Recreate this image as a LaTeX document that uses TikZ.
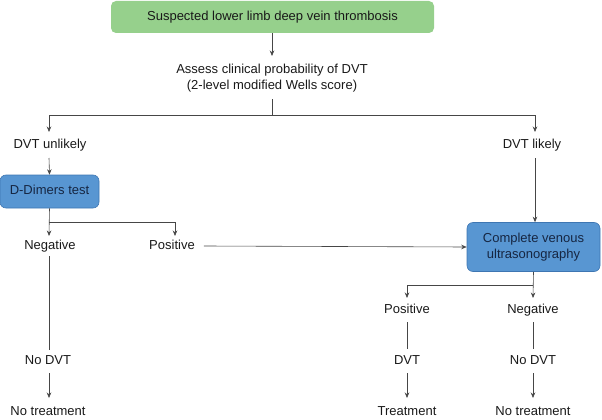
\documentclass[tikz,border=0pt]{standalone}
\usepackage{fontspec}
\setmainfont{Liberation Sans}
\usetikzlibrary{arrows.meta}
\definecolor{boxgreen}{RGB}{150,208,140}
\definecolor{boxblue}{RGB}{88,150,210}
\definecolor{blueedge}{RGB}{62,118,178}
\definecolor{bluetext}{RGB}{22,38,66}
\definecolor{linegray}{RGB}{70,70,70}
\definecolor{txt}{RGB}{25,25,25}
\begin{document}
\begin{tikzpicture}[x=1pt,y=-1pt,
  every node/.style={font=\fontsize{13}{16.5}\selectfont, text=txt},
  lbl/.style={inner sep=1pt, align=center},
  one/.style={lbl, text height=9.5pt, text depth=2.8pt},
  greenbox/.style={fill=boxgreen, rounded corners=5pt, minimum width=323pt, minimum height=32pt, inner sep=0pt},
  bluebox/.style={fill=boxblue, draw=blueedge, line width=0.6pt, rounded corners=6pt, text=bluetext, align=center, inner sep=0pt},
  conn/.style={draw=linegray, line width=0.6pt},
  arr/.style={conn, -{Stealth[length=5.5pt,width=4.5pt]}}]
\useasboundingbox (0,0) rectangle (602,420);
\node[greenbox, text height=9.5pt, text depth=2.8pt] (susp) at (272.5,17) {Suspected lower limb deep vein thrombosis};
\node[lbl] (assess) at (272,78) {Assess clinical probability of DVT\\(2-level modified Wells score)};
\node[one] (unlik) at (50,145) {DVT unlikely};
\node[one] (lik) at (532,145) {DVT likely};
\node[bluebox, minimum width=99pt, minimum height=33pt, text height=9.5pt, text depth=2.8pt] (dd) at (49.5,191.5) {D-Dimers test};
\node[one] (neg1) at (50,246) {Negative};
\node[one] (pos1) at (172,246) {Positive};
\node[bluebox, minimum width=133pt, minimum height=49pt] (us) at (533.5,247) {Complete venous\\ultrasonography};
\node[one] (pos2) at (407,310) {Positive};
\node[one] (neg2) at (533,310) {Negative};
\node[one] (dvt) at (407,361) {DVT};
\node[one] (nodvt2) at (533,361) {No DVT};
\node[one] (nodvt1) at (48,361) {No DVT};
\node[one] (tr) at (407,412) {Treatment};
\node[one] (notr2) at (533,412) {No treatment};
\node[one] (notr1) at (48,412) {No treatment};
\coordinate (split1) at (272,115);
\coordinate (split2) at (49,222);
\coordinate (split3) at (533,285);
% connectors
\draw[arr] (susp.south -| 272,0) -- (272,56);
\draw[conn] (272,99) -- (split1);
\draw[arr] (split1) -| (49,132);
\draw[arr] (split1) -| (535,132);
\draw[arr] (49,158) -- (dd.north);
\draw[arr] (dd.south) -- (49,236);
\draw[arr] (split2) -| (175,236);
\draw[arr] (pos1.east) ++(8,0) -- (us.west);
\draw[arr] (535,158) -- (us.north -| 535,0);
\draw[arr] (us.south) -- (533,298);
\draw[arr] (split3) -| (407,298);
\draw[conn] (49,256) -- (49,350);
\draw[conn] (407,322) -- (407,349);
\draw[conn] (533,322) -- (533,349);
\draw[arr] (407,373) -- (407,398);
\draw[arr] (533,373) -- (533,398);
\draw[arr] (49,373) -- (49,398);
\end{tikzpicture}
\end{document}
